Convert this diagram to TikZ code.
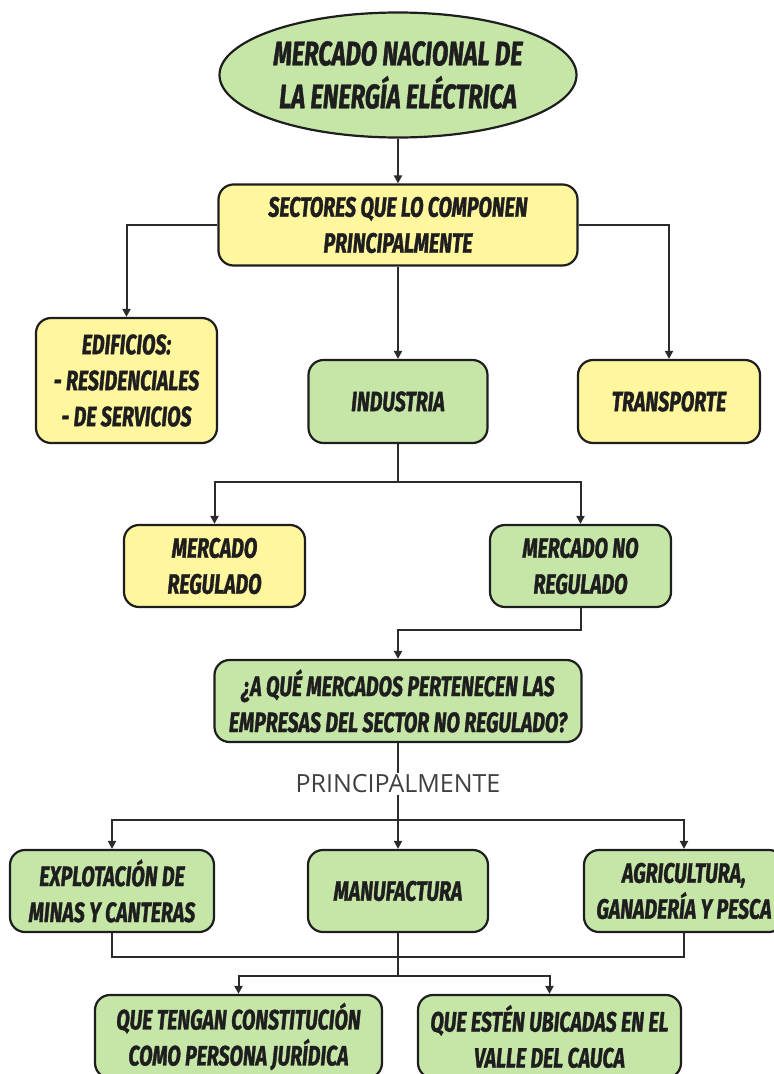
\documentclass[tikz,border=0pt]{standalone}
\usepackage{fontspec}
\usetikzlibrary{shapes.geometric,arrows.meta}
\newfontfamily\bangfont{Fira Sans}[FakeStretch=0.70, BoldItalicFeatures={FakeBold=1.2}]
\newfontfamily\plainfont{Open Sans}
\definecolor{boxgreen}{HTML}{C6E6A8}
\definecolor{boxyellow}{HTML}{FFF69E}
\definecolor{inkdark}{HTML}{1E1E1E}
\definecolor{wire}{HTML}{2B2B2B}
\definecolor{labelgray}{HTML}{404040}
\tikzset{
  card/.style={draw=inkdark, line width=2.2pt, rounded corners=15pt, inner sep=0pt,
    align=center, text=inkdark,
    font=\bangfont\bfseries\itshape\fontsize{28}{36}\selectfont},
  greencard/.style={card, fill=boxgreen},
  yellowcard/.style={card, fill=boxyellow},
  wireline/.style={draw=wire, line width=2pt},
  arr/.style={wireline, -{Triangle[length=8pt,width=8pt]}},
}
\begin{document}
\begin{tikzpicture}[x=1pt, y=-1pt]
\useasboundingbox (0,0) rectangle (774,1074);

% title ellipse
\node[ellipse, draw=inkdark, line width=2.2pt, fill=boxgreen, minimum width=357pt, minimum height=125pt, inner sep=0pt] (ell) at (398,75) {};
\node[align=center, text=inkdark, font=\bangfont\bfseries\itshape\fontsize{34}{43}\selectfont] (title) at (ell.center) {MERCADO NACIONAL DE\\LA ENERGÍA ELÉCTRICA};

% sectors
\node[yellowcard, minimum width=359pt, minimum height=81pt] (sec) at (398,225) {SECTORES QUE LO COMPONEN\\PRINCIPALMENTE};
\node[yellowcard, minimum width=181pt, minimum height=125pt] (edif) at (126.5,380.5) {EDIFICIOS:\\- RESIDENCIALES\\- DE SERVICIOS};
\node[greencard, minimum width=179pt, minimum height=83pt] (ind) at (398,401.5) {INDUSTRIA};
\node[yellowcard, minimum width=182pt, minimum height=83pt] (trans) at (669,401.5) {TRANSPORTE};

% markets
\node[yellowcard, minimum width=181pt, minimum height=82pt] (mreg) at (214.5,566) {MERCADO\\REGULADO};
\node[greencard, minimum width=181pt, minimum height=82pt] (mnr) at (580.5,566) {MERCADO NO\\REGULADO};
\node[greencard, minimum width=367pt, minimum height=82pt] (q) at (398,701) {¿A QUÉ MERCADOS PERTENECEN LAS\\EMPRESAS DEL SECTOR NO REGULADO?};

\node[text=labelgray, font=\plainfont\fontsize{25}{28}\selectfont, inner sep=2pt] (lab) at (398,784) {PRINCIPALMENTE};

% activities
\node[greencard, minimum width=204pt, minimum height=82pt] (exp) at (112,891) {EXPLOTACIÓN DE\\MINAS Y CANTERAS};
\node[greencard, minimum width=180pt, minimum height=82pt] (man) at (398,891) {MANUFACTURA};
\node[greencard, minimum width=200pt, minimum height=82pt] (agr) at (684,891) {AGRICULTURA,\\GANADERÍA Y PESCA};

% requirements
\node[greencard, minimum width=287pt, minimum height=83pt] (c1) at (238.5,1036.5) {QUE TENGAN CONSTITUCIÓN\\COMO PERSONA JURÍDICA};
\node[greencard, minimum width=263pt, minimum height=83pt] (c2) at (549.5,1036.5) {QUE ESTÉN UBICADAS EN EL\\VALLE DEL CAUCA};

% junction points
\coordinate (j1) at (398,482);
\coordinate (j2) at (398,630);
\coordinate (j3) at (398,820);
\coordinate (j4) at (398,976);
\coordinate (jl) at (112,957);

% connectors
\draw[arr] (ell.south) -- (sec.north);
\draw[arr] (sec.west) -| (edif.north);
\draw[arr] (sec.east) -| (trans.north);
\draw[arr] (sec.south) -- (ind.north);
\draw[wireline] (ind.south) -- (j1);
\draw[arr] (j1) -| (mreg.north);
\draw[arr] (j1) -| (mnr.north);
\draw[arr] (mnr.south) |- (j2) -- (q.north);
\draw[wireline] (q.south) -- (lab.north);
\draw[wireline] (lab.south) -- (j3);
\draw[arr] (j3) -| (exp.north);
\draw[arr] (j3) -- (man.north);
\draw[arr] (j3) -| (agr.north);
\draw[wireline] (exp.south) -- (jl) -| (agr.south);
\draw[wireline] (man.south) -- (j4);
\draw[arr] (j4) -| (c1.north);
\draw[arr] (j4) -| (c2.north);
\end{tikzpicture}
\end{document}
